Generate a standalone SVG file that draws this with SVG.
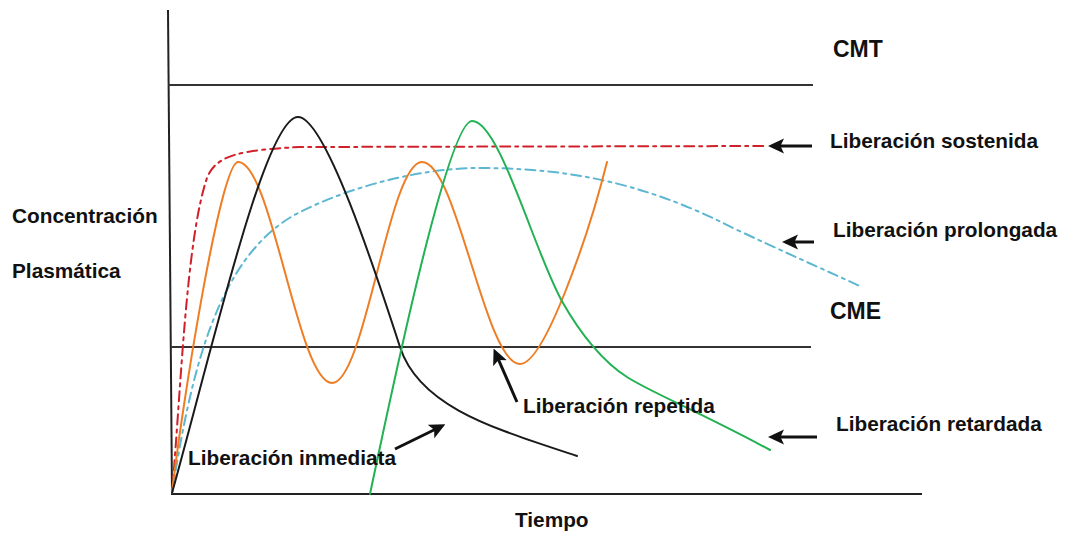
<svg xmlns="http://www.w3.org/2000/svg" width="1065" height="533" viewBox="0 0 1065 533">
<style>
.lbl{font-family:"Liberation Sans",Arial,sans-serif;font-weight:bold;font-size:20.8px;fill:#111}
.big{font-size:23px}
.ax{stroke:#222;stroke-width:2;fill:none}
.ref{stroke:#333;stroke-width:2;fill:none}
.crv{fill:none;stroke-width:2;stroke-linecap:round;stroke-linejoin:round}
.arr{stroke:#111;stroke-width:3;fill:none}
</style>
<defs>
<marker id="ah" viewBox="0 0 16 16" refX="10" refY="8" markerWidth="16" markerHeight="16" markerUnits="userSpaceOnUse" orient="auto">
<path d="M0,0.5 L16,8 L0,15.5 L3.5,8 z" fill="#111"/>
</marker>
</defs>
<rect width="1065" height="533" fill="#fff"/>
<g id="axes">
<line class="ax" x1="168" y1="10" x2="172" y2="494"/>
<line class="ax" x1="171" y1="494" x2="922" y2="494"/>
<line class="ref" x1="168" y1="85" x2="813" y2="85"/>
<line class="ref" x1="171" y1="347" x2="811" y2="347"/>
</g>
<g id="curves">
<path id="sostenida" class="crv" stroke="#d0202a" stroke-dasharray="10 5 3 5" d="M172,493 C181,390 186,240 207,178 C216,155 240,150 300,147 L768,146"/>
<path id="prolongada" class="crv" stroke="#5db7d1" stroke-dasharray="10 5 3 5" d="M172,493 C190,380 215,255 300,212 C350,187 420,168 480,168 C560,168 640,180 733,228 C780,250 820,268 862,287"/>
<path id="repetida" class="crv" stroke="#ee7d24" d="M172,493 C180,420 220,162 238,162 C272,162 298,383 332,383 C365,383 389,162 422,162 C457,162 485,364 520,364 C545,364 590,230 607,162"/>
<path id="inmediata" class="crv" stroke="#1a1a1a" d="M172,493 C212,350 265,117 298,117 C325,117 375,270 400,347 C420,409 500,430 577,456"/>
<path id="retardada" class="crv" stroke="#22b153" d="M370,494 C392,390 448,121 472,121 C500,121 535,255 563,303 C580,333 603,362 627,377 C650,392 700,412 770,450"/>
</g>
<g id="connectors">
<line class="arr" x1="812" y1="146" x2="774" y2="146" marker-end="url(#ah)"/>
<line class="arr" x1="814" y1="242" x2="788" y2="242" marker-end="url(#ah)"/>
<line class="arr" x1="817" y1="437" x2="774" y2="437" marker-end="url(#ah)"/>
<line class="arr" x1="517" y1="402" x2="496" y2="354" marker-end="url(#ah)"/>
<line class="arr" x1="395" y1="449" x2="440" y2="427" marker-end="url(#ah)"/>
</g>
<g id="labels">
<text id="t-cmt" class="lbl big" x="833" y="57">CMT</text>
<text id="t-sost" class="lbl" x="830" y="148">Liberación sostenida</text>
<text id="t-conc" class="lbl" x="12" y="223">Concentración</text>
<text id="t-plas" class="lbl" x="12" y="278">Plasmática</text>
<text id="t-prol" class="lbl" x="833" y="237">Liberación prolongada</text>
<text id="t-cme" class="lbl big" x="830" y="319">CME</text>
<text id="t-rep" class="lbl" x="523" y="413">Liberación repetida</text>
<text id="t-ret" class="lbl" x="836" y="431">Liberación retardada</text>
<text id="t-inm" class="lbl" x="188" y="465">Liberación inmediata</text>
<text id="t-tiempo" class="lbl" x="515" y="527">Tiempo</text>
</g>
</svg>
